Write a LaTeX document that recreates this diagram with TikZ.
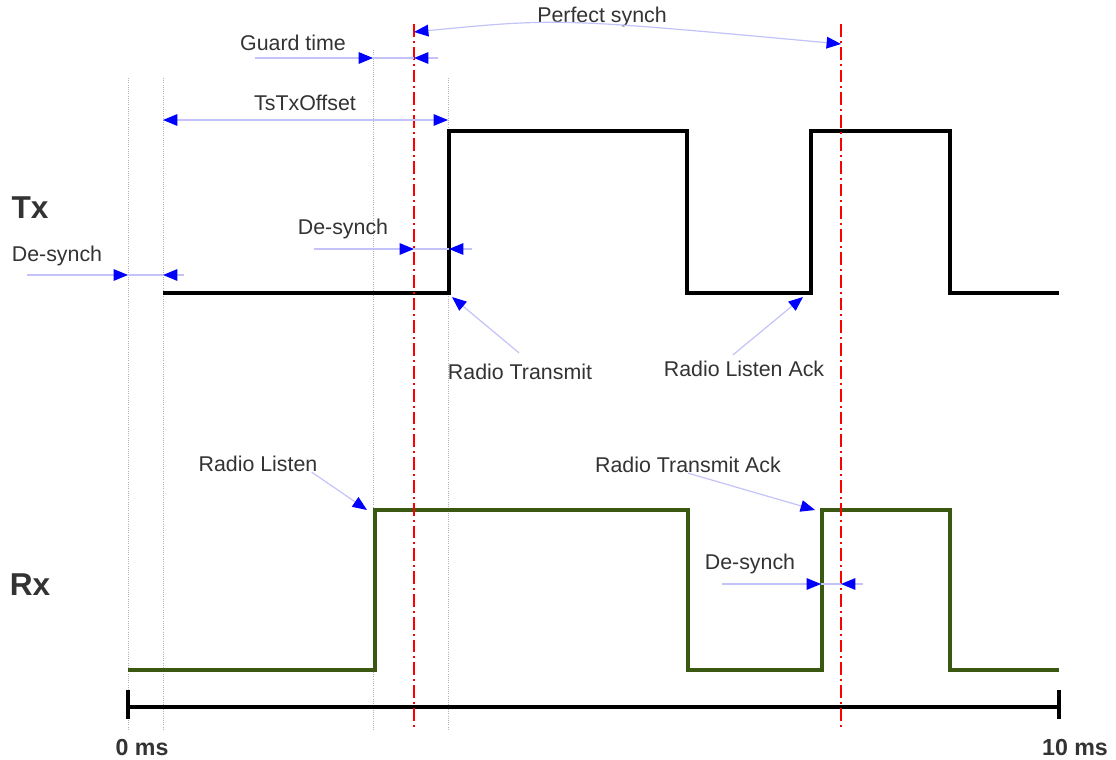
\documentclass[tikz,border=0pt]{standalone}
\usepackage{fontspec}
\setmainfont{Liberation Sans}
\usetikzlibrary{arrows.meta}
\definecolor{txtgray}{RGB}{51,51,51}
\definecolor{rxgreen}{RGB}{58,88,18}
\definecolor{dimblue}{RGB}{195,195,250}

\begin{document}
\begin{tikzpicture}[
  x=0.25mm,
  y=-0.25mm,
  font=\fontsize{15.2}{18}\selectfont,
  >={Triangle[length=3.6mm,width=2.9mm,color=blue]},
  lbl/.style={text=txtgray, inner sep=0pt},
  sig/.style={text=txtgray, inner sep=0pt, font=\fontsize{22.5}{26}\selectfont\bfseries},
  axislbl/.style={text=txtgray, inner sep=0pt, font=\fontsize{16.5}{20}\selectfont\bfseries},
  dim/.style={draw=dimblue, line width=0.3mm},
  guide/.style={draw=black!30, line width=0.2mm, densely dotted},
  synch/.style={draw=red, line width=0.55mm,
    dash pattern=on 3.2mm off 1mm on 0.5mm off 1mm},
  txwave/.style={draw=black, line width=0.9mm},
  rxwave/.style={draw=rxgreen, line width=0.9mm}
]

\fill[white] (0,0) rectangle (1116,760);
\useasboundingbox (0,0) rectangle (1116,760);

% guide lines
\draw[guide] (128,78) -- (128,730);
\draw[guide] (163,78) -- (163,730);
\draw[guide] (373,50) -- (373,730);
\draw[guide] (448,78) -- (448,730);

% signals
\draw[txwave] (163,293) -- (449,293) -- (449,131) -- (687,131) -- (687,293)
  -- (811,293) -- (811,131) -- (950,131) -- (950,293) -- (1059,293);
\draw[rxwave] (128,670) -- (375,670) -- (375,510) -- (688,510) -- (688,670)
  -- (822,670) -- (822,510) -- (950,510) -- (950,670) -- (1059,670);

% time axis
\draw[line width=1mm] (128,707) -- (1059,707);
\draw[line width=0.8mm] (128,690) -- (128,719);
\draw[line width=0.8mm] (1059,690) -- (1059,719);

% perfect synch marks
\draw[synch] (414,24) -- (414,728);
\draw[synch] (841,24) -- (841,728);

% labels
\node[sig] (tx) at (30,208) {Tx};
\node[sig] (rx) at (30,585) {Rx};
\node[axislbl] (zero) at (142,748) {0 ms};
\node[axislbl] (ten) at (1075,748) {10 ms};
\node[lbl] (perfect) at (602,17) {Perfect synch};
\node[lbl] (guard) at (293,43) {Guard time};
\node[lbl] (offset) at (305,103) {TsTxOffset};
\node[lbl] (ds1) at (57,256) {De-synch};
\node[lbl] (ds2) at (343,229) {De-synch};
\node[lbl] (radiotx) at (520,372) {Radio Transmit};
\node[lbl] (listenack) at (744,369) {Radio Listen Ack};
\node[lbl] (listen) at (258,464) {Radio Listen};
\node[lbl] (txack) at (688,465) {Radio Transmit Ack};
\node[lbl] (ds3) at (750,564) {De-synch};

% dimensions
\draw[dim, <->] (414,32) .. controls (558,18) .. (841,44);
\draw[dim, ->] (255,58) -- (373,58);
\draw[dim] (373,58) -- (414,58);
\draw[dim, ->] (438,58) -- (414,58);
\draw[dim, <->] (163,120) -- (448,120);
\draw[dim, ->] (27,275) -- (128,275);
\draw[dim] (128,275) -- (163,275);
\draw[dim, ->] (184,275) -- (163,275);
\draw[dim, ->] (314,249) -- (414,249);
\draw[dim] (414,249) -- (449,249);
\draw[dim, ->] (472,249) -- (449,249);
\draw[dim, ->] (722,584) -- (821,584);
\draw[dim] (821,584) -- (841,584);
\draw[dim, ->] (863,584) -- (841,584);

% pointers
\coordinate (txedge) at (452,297);
\coordinate (ackedge) at (803,297);
\coordinate (rxedge) at (367,510);
\coordinate (rxackedge) at (815,510);
\draw[dim, ->] (radiotx.north) ++(-1,-11) -- (txedge);
\draw[dim, ->] (listenack.north) ++(-11,-6) -- (ackedge);
\draw[dim, ->] (listen.south east) ++(-6,0) -- (rxedge);
\draw[dim, ->] (txack.south) -- (rxackedge);

\end{tikzpicture}
\end{document}
